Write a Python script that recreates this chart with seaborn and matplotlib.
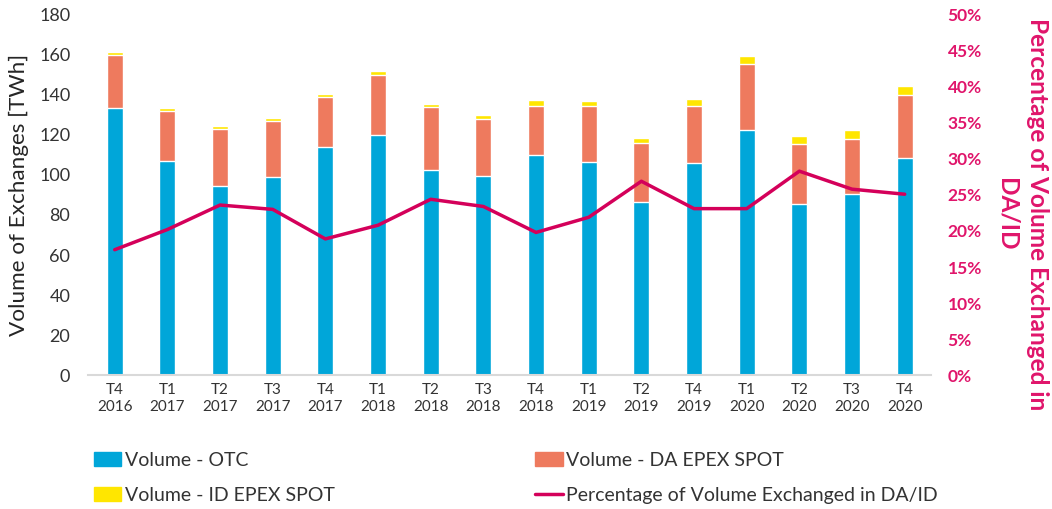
import matplotlib
matplotlib.use('Agg')
import matplotlib.pyplot as plt
import matplotlib.ticker as mticker
from matplotlib.patches import Patch
from matplotlib.lines import Line2D
import numpy as np
import seaborn as sns

# Data
quarters = ['T4\n2016', 'T1\n2017', 'T2\n2017', 'T3\n2017', 'T4\n2017', 'T1\n2018',
            'T2\n2018', 'T3\n2018', 'T4\n2018', 'T1\n2019', 'T2\n2019', 'T4\n2019',
            'T1\n2020', 'T2\n2020', 'T3\n2020', 'T4\n2020']
otc = [133.3, 106.8, 94.7, 99.0, 114.0, 120.0, 102.5, 99.7,
       110.2, 106.3, 86.7, 105.8, 122.3, 85.3, 90.3, 108.5]
da_spot = [26.4, 24.9, 28.1, 27.7, 24.8, 29.8, 31.3, 28.1,
           24.1, 28.0, 29.0, 28.5, 33.0, 29.9, 27.5, 31.5]
id_spot = [1.6, 1.6, 1.7, 1.8, 1.7, 2.2, 1.7, 2.2,
           2.9, 2.4, 2.8, 3.4, 3.9, 4.0, 4.5, 4.5]
pct_da_id = [17.4, 20.2, 23.6, 23.0, 18.9, 20.8, 24.4, 23.4,
             19.8, 21.9, 26.9, 23.1, 23.1, 28.3, 25.8, 25.1]

c_otc = '#00A6D9'
c_da = '#EE7A5E'
c_id = '#FFE600'
c_line = '#D4005A'
c_pink_txt = '#E0156B'
c_txt = '#333333'

sns.set_style('white')
plt.rcParams['font.family'] = ['Lato', 'DejaVu Sans']

fig = plt.figure(figsize=(10.52, 5.09), dpi=100)
ax = fig.add_axes([0.084, 0.263, 0.801, 0.708])

otc_arr = np.array(otc)
lvl2 = otc_arr + np.array(da_spot)
lvl3 = lvl2 + np.array(id_spot)

# stacked bars drawn back to front
sns.barplot(x=quarters, y=lvl3, color=c_id, width=0.3, saturation=1, ax=ax)
sns.barplot(x=quarters, y=lvl2, color=c_da, width=0.3, saturation=1, ax=ax)
sns.barplot(x=quarters, y=otc_arr, color=c_otc, width=0.3, saturation=1, ax=ax)

ax.set_xlim(-0.5, len(quarters) - 0.5)
ax.set_ylim(0, 180)
ax.set_yticks(range(0, 181, 20))
ax.tick_params(axis='y', length=0, pad=13, labelsize=13, labelcolor=c_txt)
ax.tick_params(axis='x', length=0, pad=6, labelsize=11, labelcolor=c_txt)
ax.set_ylabel('Volume of Exchanges [TWh]', fontsize=16.2, color='#262626', labelpad=7)
for s in ['left', 'right', 'top']:
    ax.spines[s].set_visible(False)
ax.spines['bottom'].set_color('#D9D9D9')
ax.spines['bottom'].set_linewidth(1.5)

ax2 = ax.twinx()
sns.lineplot(x=np.arange(len(quarters)), y=np.array(pct_da_id) / 100, color=c_line,
             linewidth=2.5, ax=ax2)
ax2.set_ylim(0, 0.5)
ax2.set_yticks(np.arange(0, 0.501, 0.05))
ax2.yaxis.set_major_formatter(mticker.PercentFormatter(1.0, decimals=0))
ax2.tick_params(axis='y', length=0, pad=12, labelsize=12.5, labelcolor=c_pink_txt)
for lbl in ax2.get_yticklabels():
    lbl.set_fontweight('bold')
for s in ['left', 'right', 'top', 'bottom']:
    ax2.spines[s].set_visible(False)
ax2.set_ylabel('')
ax2.set_xlim(-0.5, len(quarters) - 0.5)

fig.text(1037 / 1052, 1 - 214 / 509, 'Percentage of Volume Exchanged in', rotation=-90,
         ha='center', va='center', fontsize=17.6, fontweight='bold', color=c_pink_txt)
fig.text(1007 / 1052, 1 - 214 / 509, 'DA/ID', rotation=-90,
         ha='center', va='center', fontsize=17.6, fontweight='bold', color=c_pink_txt)

handles = [Patch(color=c_otc), Patch(color=c_id), Patch(color=c_da),
           Line2D([], [], color=c_line, linewidth=2.5)]
labels = ['Volume - OTC', 'Volume - ID EPEX SPOT', 'Volume - DA EPEX SPOT',
          'Percentage of Volume Exchanged in DA/ID']
fig.legend(handles, labels, ncol=2, loc='upper left', bbox_to_anchor=(0.082, 0.128),
           frameon=False, fontsize=14, handlelength=1.4, handleheight=0.75,
           handletextpad=0.2, columnspacing=10.3, labelspacing=0.95, borderaxespad=0,
           labelcolor=c_txt)

fig.savefig('out.png', dpi=100)
